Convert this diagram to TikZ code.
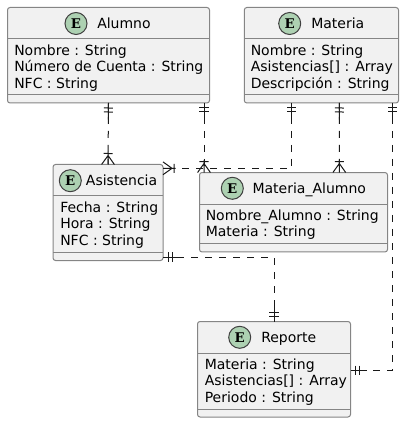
\documentclass[tikz,border=0pt]{standalone}
\usepackage{fontspec}
\setmainfont{DejaVu Sans}
\newfontfamily\badgefont{DejaVu Serif}
\usetikzlibrary{calc}
\definecolor{EntityFill}{HTML}{F1F1F1}
\definecolor{EntityLine}{HTML}{858585}
\definecolor{BadgeGreen}{HTML}{ADD1B2}
\pgfdeclarearrow{
  name=TwoTicks,
  setup code={\pgfarrowssettipend{0pt}\pgfarrowssetlineend{0pt}\pgfarrowssetbackend{-12pt}\pgfarrowssetvisualbackend{-12pt}},
  drawing code={
    \pgfsetdash{}{0pt}\pgfsetlinewidth{0.75pt}\pgfsetbuttcap
    \pgfpathmoveto{\pgfpoint{0pt}{0pt}}\pgfpathlineto{\pgfpoint{-12.5pt}{0pt}}
    \pgfpathmoveto{\pgfpoint{-3.75pt}{-3.4pt}}\pgfpathlineto{\pgfpoint{-3.75pt}{3.4pt}}
    \pgfpathmoveto{\pgfpoint{-6.75pt}{-3.4pt}}\pgfpathlineto{\pgfpoint{-6.75pt}{3.4pt}}
    \pgfusepathqstroke
  }
}
\pgfdeclarearrow{
  name=CrowFoot,
  setup code={\pgfarrowssettipend{0pt}\pgfarrowssetlineend{0pt}\pgfarrowssetbackend{-9pt}\pgfarrowssetvisualbackend{-9pt}},
  drawing code={
    \pgfsetdash{}{0pt}\pgfsetlinewidth{0.75pt}\pgfsetbuttcap\pgfsetmiterjoin
    \pgfpathmoveto{\pgfpoint{0pt}{0pt}}\pgfpathlineto{\pgfpoint{-9.5pt}{0pt}}
    \pgfpathmoveto{\pgfpoint{0pt}{-4.8pt}}\pgfpathlineto{\pgfpoint{-6.75pt}{0pt}}\pgfpathlineto{\pgfpoint{0pt}{4.8pt}}
    \pgfpathmoveto{\pgfpoint{-8.25pt}{-3.4pt}}\pgfpathlineto{\pgfpoint{-8.25pt}{3.4pt}}
    \pgfusepathqstroke
  }
}
\tikzset{
  entitybox/.style={rectangle, rounded corners=1.9pt, draw=EntityLine, fill=EntityFill, line width=0.75pt, outer sep=0pt, inner sep=0pt},
  sepline/.style={draw=EntityLine, line width=0.75pt},
  badge/.style={circle, draw=black!75, fill=BadgeGreen, line width=0.75pt, minimum size=16.5pt, inner sep=0pt, font=\badgefont\bfseries\fontsize{10}{10}\selectfont},
  titletext/.style={anchor=base west, inner sep=0pt, font=\fontsize{10.5}{12.4}\selectfont},
  attrtext/.style={anchor=north west, inner sep=0pt, align=left, font=\fontsize{10.5}{12.4}\selectfont},
  relation/.style={draw=black!90, line width=0.75pt, dash pattern=on 5.25pt off 5.25pt}
}
\begin{document}
\begin{tikzpicture}[x=0.75pt, y=-0.75pt]
  \useasboundingbox (0,0) rectangle (404,423);

  \node[entitybox, minimum width=151.5pt, minimum height=71.625pt] (alumno) at (108.5,55.25) {};
  \node[badge] (alumnobadge) at (76,23.5) {E};
  \node[titletext] (alumnotitle) at (97,28.5) {Alumno};
  \node[attrtext] (alumnoattr) at (14,44.5) {Nombre : String\\Número de Cuenta : String\\NFC : String};
  \draw[sepline] ($(alumno.north west)+(0,31.5)$) -- ($(alumno.north east)+(0,31.5)$);
  \draw[sepline] ($(alumno.south west)+(0,-8)$) -- ($(alumno.south east)+(0,-8)$);

  \node[entitybox, minimum width=115.65pt, minimum height=71.625pt] (materia) at (321.4,55.25) {};
  \node[badge] (materiabadge) at (289.7,23.5) {E};
  \node[titletext] (materiatitle) at (311,28.5) {Materia};
  \node[attrtext] (materiaattr) at (250.5,44.5) {Nombre : String\\Asistencias[] : Array\\Descripción : String};
  \draw[sepline] ($(materia.north west)+(0,31.5)$) -- ($(materia.north east)+(0,31.5)$);
  \draw[sepline] ($(materia.south west)+(0,-8)$) -- ($(materia.south east)+(0,-8)$);

  \node[entitybox, minimum width=82.5pt, minimum height=72pt] (asistencia) at (108,212.5) {};
  \node[badge] (asistenciabadge) at (70.3,180.7) {E};
  \node[titletext] (asistenciatitle) at (85.7,186) {Asistencia};
  \node[attrtext] (asistenciaattr) at (60,201.5) {Fecha : String\\Hora : String\\NFC : String};
  \draw[sepline] ($(asistencia.north west)+(0,31.5)$) -- ($(asistencia.north east)+(0,31.5)$);
  \draw[sepline] ($(asistencia.south west)+(0,-8)$) -- ($(asistencia.south east)+(0,-8)$);

  \node[entitybox, minimum width=141pt, minimum height=59.6pt] (materiaalumno) at (293.5,212.25) {};
  \node[badge] (materiaalumnobadge) at (232.3,188.3) {E};
  \node[titletext] (materiaalumnotitle) at (252.3,193.5) {Materia\_Alumno};
  \node[attrtext] (materiaalumnoattr) at (205.5,209.5) {Nombre\_Alumno : String\\Materia : String};
  \draw[sepline] ($(materiaalumno.north west)+(0,32)$) -- ($(materiaalumno.north east)+(0,32)$);
  \draw[sepline] ($(materiaalumno.south west)+(0,-8)$) -- ($(materiaalumno.south east)+(0,-8)$);

  \node[entitybox, minimum width=114.75pt, minimum height=71.625pt] (reporte) at (274,369.25) {};
  \node[badge] (reportebadge) at (239.7,337.3) {E};
  \node[titletext] (reportetitle) at (261,342.5) {Reporte};
  \node[attrtext] (reporteattr) at (204.5,358.5) {Materia : String\\Asistencias[] : Array\\Periodo : String};
  \draw[sepline] ($(reporte.north west)+(0,31.5)$) -- ($(reporte.north east)+(0,31.5)$);
  \draw[sepline] ($(reporte.south west)+(0,-8)$) -- ($(reporte.south east)+(0,-8)$);

  \draw[relation, {TwoTicks}-{CrowFoot}] (alumno.south) -- (asistencia.north);
  \draw[relation, {TwoTicks}-{CrowFoot}] ($(alumno.south)+(95.5,0)$) -- ($(materiaalumno.north)+(-89.5,0)$);
  \draw[relation, {TwoTicks}-{CrowFoot}] ($(materia.south)+(-30.2,0)$) |- ($(asistencia.east)+(0,-44.2)$);
  \draw[relation, {TwoTicks}-{CrowFoot}] ($(materia.south)+(18,0)$) -- ($(materiaalumno.north)+(45.8,0)$);
  \draw[relation, {TwoTicks}-{TwoTicks}] ($(materia.south)+(71,0)$) |- ($(reporte.east)+(0,1)$);
  \draw[relation, {TwoTicks}-{TwoTicks}] ($(asistencia.east)+(0,44.5)$) -| (reporte.north);
\end{tikzpicture}
\end{document}
